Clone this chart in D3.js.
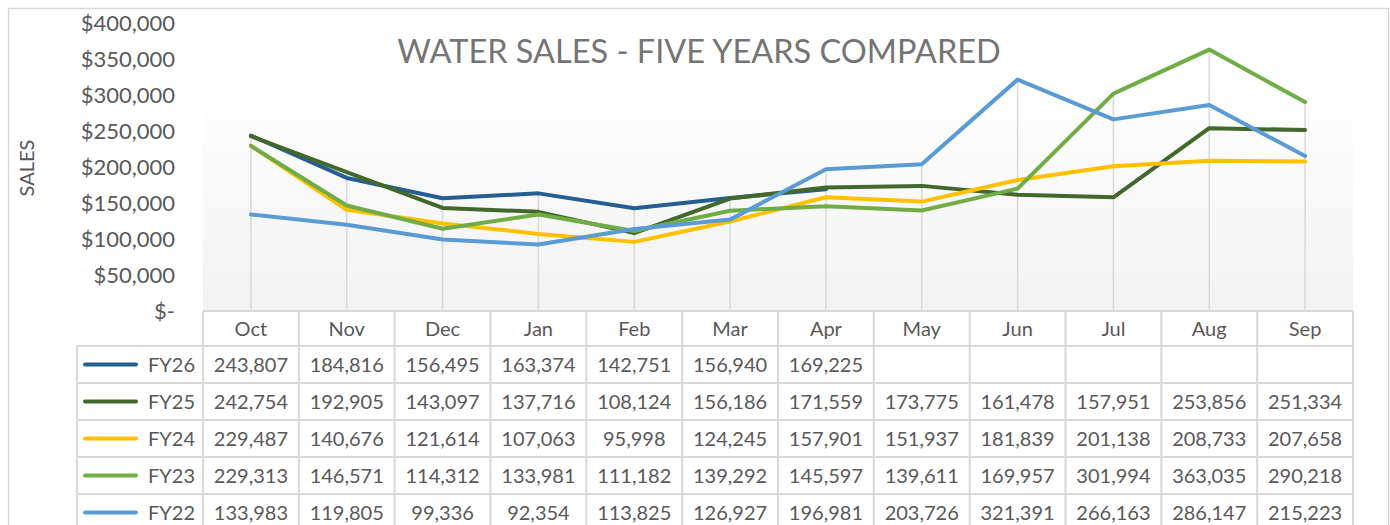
<!DOCTYPE html>
<html>
<head>
<meta charset="utf-8">
<script src="https://cdn.jsdelivr.net/npm/d3@7"></script>
<style>
  body { margin: 0; background: #fff; }
  text { font-family: Lato, "Open Sans", sans-serif; }
</style>
</head>
<body>
<div id="chart"></div>
<script>
// chart data
const months = ["Oct", "Nov", "Dec", "Jan", "Feb", "Mar", "Apr", "May", "Jun", "Jul", "Aug", "Sep"];
const seriesNames = ["FY26", "FY25", "FY24", "FY23", "FY22"];
const fy26 = [243807, 184816, 156495, 163374, 142751, 156940, 169225, null, null, null, null, null];
const fy25 = [242754, 192905, 143097, 137716, 108124, 156186, 171559, 173775, 161478, 157951, 253856, 251334];
const fy24 = [229487, 140676, 121614, 107063, 95998, 124245, 157901, 151937, 181839, 201138, 208733, 207658];
const fy23 = [229313, 146571, 114312, 133981, 111182, 139292, 145597, 139611, 169957, 301994, 363035, 290218];
const fy22 = [133983, 119805, 99336, 92354, 113825, 126927, 196981, 203726, 321391, 266163, 286147, 215223];
const yTicks = [0, 50000, 100000, 150000, 200000, 250000, 300000, 350000, 400000];

const seriesValues = [fy26, fy25, fy24, fy23, fy22];
const series_color = d3.scaleOrdinal()
    .domain(seriesNames)
    .range(["#255e91", "#43682b", "#ffc000", "#70ad47", "#5b9bd5"]);

const width = 1390, height = 525;
const plot = {left: 203, right: 1353, top: 23, bottom: 311};
const headerH = 35, rowH = 37, legendLeft = 77;
const gridColor = "#d9d9d9", textColor = "#595959";

let svg = d3.select("#chart")
    .append("svg")
        .attr("width", width)
        .attr("height", height);

// gradient for the plot area
const grad = svg.append("defs").append("linearGradient")
    .attr("id", "plotBg")
    .attr("x1", 0).attr("y1", 0).attr("x2", 0).attr("y2", 1);
grad.append("stop").attr("offset", "0%").attr("stop-color", "#ffffff");
grad.append("stop").attr("offset", "22%").attr("stop-color", "#ffffff");
grad.append("stop").attr("offset", "100%").attr("stop-color", "#f2f2f2");

// outer border
svg.append("rect")
    .attr("x", 8.5).attr("y", 8.5)
    .attr("width", 1380).attr("height", 540)
    .attr("fill", "#fff")
    .attr("stroke", gridColor)
    .attr("stroke-width", 1.5);

const x_scale = d3.scaleBand()
    .domain(months)
    .range([plot.left, plot.right]);
const y_scale = d3.scaleLinear()
    .domain([0, 400000])
    .range([plot.bottom, plot.top]);
const cx = m => x_scale(m) + x_scale.bandwidth() / 2;

svg.append("rect")
    .attr("x", plot.left).attr("y", plot.top)
    .attr("width", plot.right - plot.left)
    .attr("height", plot.bottom - plot.top)
    .attr("fill", "url(#plotBg)");

// title
svg.append("text")
    .attr("x", 699).attr("y", 63)
    .attr("text-anchor", "middle")
    .attr("fill", "#757575")
    .style("font-size", "32.5px")
    .text("WATER SALES - FIVE YEARS COMPARED");

// y axis title
svg.append("text")
    .attr("transform", "translate(34, 168) rotate(-90)")
    .attr("text-anchor", "middle")
    .attr("fill", textColor)
    .style("font-size", "20px")
    .text("SALES");

// y axis labels
const fmt = d3.format(",");
const y_axis = d3.axisLeft(y_scale)
    .tickValues(yTicks)
    .tickSize(0)
    .tickPadding(0)
    .tickFormat(d => d === 0 ? "$-" : "$" + fmt(d));
const yG = svg.append("g")
    .attr("transform", "translate(175, 0)")
    .call(y_axis);
yG.select(".domain").remove();
yG.selectAll("text")
    .attr("fill", textColor)
    .attr("dy", "0.35em")
    .style("font-size", "22px")
    .style("font-family", "Lato, 'Open Sans', sans-serif");

// drop lines from highest point to axis
svg.append("g")
    .selectAll("line")
    .data(months)
    .join("line")
        .attr("x1", d => cx(d)).attr("x2", d => cx(d))
        .attr("y1", (d, i) => y_scale(d3.max(seriesValues, s => s[i])))
        .attr("y2", plot.bottom)
        .attr("stroke", gridColor)
        .attr("stroke-width", 1.5);

// series lines
const line = d3.line()
    .defined(d => d.v != null)
    .x(d => cx(d.m))
    .y(d => y_scale(d.v));
svg.append("g")
    .selectAll("path")
    .data(seriesNames.map((n, k) => ({name: n, pts: months.map((m, i) => ({m: m, v: seriesValues[k][i]}))})))
    .join("path")
        .attr("d", d => line(d.pts))
        .attr("fill", "none")
        .attr("stroke", d => series_color(d.name))
        .attr("stroke-width", 4)
        .attr("stroke-linejoin", "round")
        .attr("stroke-linecap", "round");

// data table
const tableG = svg.append("g");
const tableBottom = plot.bottom + headerH + rowH * seriesNames.length;
// header row lines
tableG.append("line")
    .attr("x1", plot.left).attr("x2", plot.right)
    .attr("y1", plot.bottom).attr("y2", plot.bottom)
    .attr("stroke", gridColor).attr("stroke-width", 2);
// horizontal row lines
tableG.selectAll(".hrow")
    .data(d3.range(seriesNames.length + 1))
    .join("line")
        .attr("x1", legendLeft).attr("x2", plot.right)
        .attr("y1", i => plot.bottom + headerH + i * rowH)
        .attr("y2", i => plot.bottom + headerH + i * rowH)
        .attr("stroke", gridColor).attr("stroke-width", 2);
// vertical lines
tableG.selectAll(".vcol")
    .data(months.concat(["end"]))
    .join("line")
        .attr("x1", d => d === "end" ? plot.right : x_scale(d))
        .attr("x2", d => d === "end" ? plot.right : x_scale(d))
        .attr("y1", plot.bottom).attr("y2", tableBottom)
        .attr("stroke", gridColor).attr("stroke-width", 2);
tableG.append("line")
    .attr("x1", legendLeft).attr("x2", legendLeft)
    .attr("y1", plot.bottom + headerH).attr("y2", tableBottom)
    .attr("stroke", gridColor).attr("stroke-width", 2);

// month labels
tableG.selectAll(".mlab")
    .data(months)
    .join("text")
        .attr("x", d => cx(d))
        .attr("y", plot.bottom + headerH / 2)
        .attr("dy", "0.36em")
        .attr("text-anchor", "middle")
        .attr("fill", textColor)
        .style("font-size", "20px")
        .text(d => d);

// rows
seriesNames.forEach(function(name, k){
    const yc = plot.bottom + headerH + k * rowH + rowH / 2;
    tableG.append("line")
        .attr("x1", 85).attr("x2", 136)
        .attr("y1", yc).attr("y2", yc)
        .attr("stroke", series_color(name))
        .attr("stroke-width", 4)
        .attr("stroke-linecap", "round");
    tableG.append("text")
        .attr("x", 148).attr("y", yc)
        .attr("dy", "0.36em")
        .attr("fill", textColor)
        .style("font-size", "20px")
        .text(name);
    tableG.selectAll(".v" + name)
        .data(months.map((m, i) => ({m: m, v: seriesValues[k][i]})).filter(d => d.v != null))
        .join("text")
            .attr("x", d => cx(d.m))
            .attr("y", yc)
            .attr("dy", "0.36em")
            .attr("text-anchor", "middle")
            .attr("fill", textColor)
            .style("font-size", "20px")
            .text(d => fmt(d.v));
});
</script>
</body>
</html>
